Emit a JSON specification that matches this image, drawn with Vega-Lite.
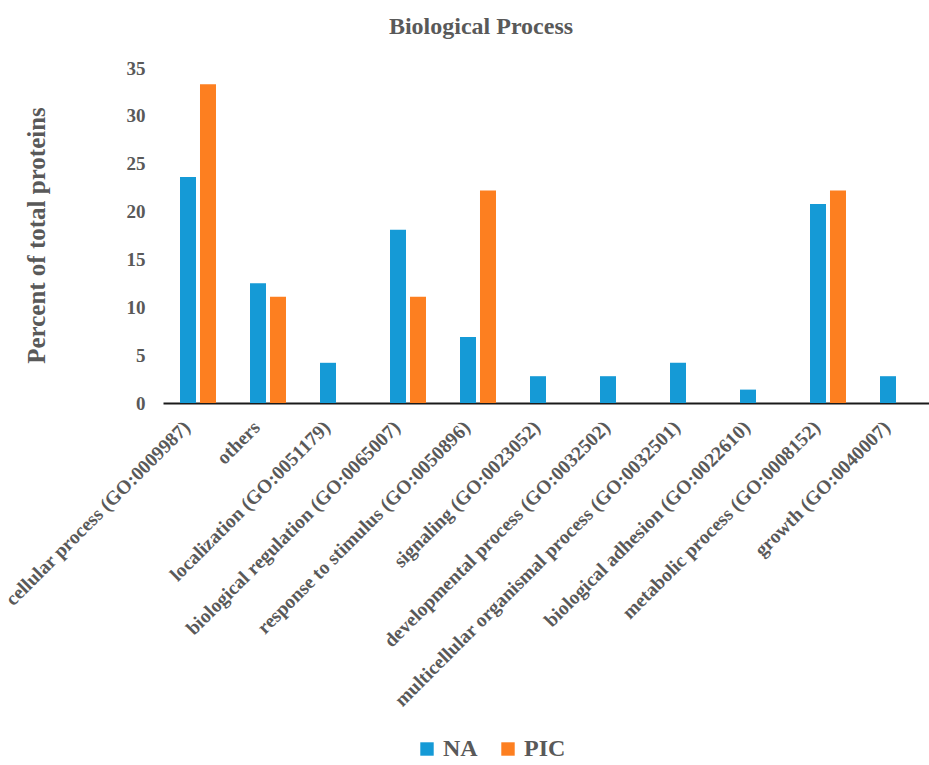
{
  "$schema": "https://vega.github.io/schema/vega-lite/v6.json",
  "autosize": "none",
  "width": 770,
  "height": 335,
  "padding": {"left": 163, "top": 68, "right": 0, "bottom": 362},
  "background": "white",
  "config": {
    "view": {"stroke": null},
    "font": "Liberation Serif"
  },
  "title": {
    "text": "Biological Process",
    "font": "Liberation Serif",
    "fontSize": 24,
    "fontWeight": "bold",
    "color": "#595959",
    "anchor": "middle",
    "dx": -67,
    "offset": 20
  },
  "data": {
    "values": [
      {"category": "cellular process (GO:0009987)", "group": "NA", "value": 23.6},
      {"category": "cellular process (GO:0009987)", "group": "PIC", "value": 33.3},
      {"category": "others", "group": "NA", "value": 12.5},
      {"category": "others", "group": "PIC", "value": 11.1},
      {"category": "localization (GO:0051179)", "group": "NA", "value": 4.2},
      {"category": "biological regulation (GO:0065007)", "group": "NA", "value": 18.1},
      {"category": "biological regulation (GO:0065007)", "group": "PIC", "value": 11.1},
      {"category": "response to stimulus (GO:0050896)", "group": "NA", "value": 6.9},
      {"category": "response to stimulus (GO:0050896)", "group": "PIC", "value": 22.2},
      {"category": "signaling (GO:0023052)", "group": "NA", "value": 2.8},
      {"category": "developmental process (GO:0032502)", "group": "NA", "value": 2.8},
      {"category": "multicellular organismal process (GO:0032501)", "group": "NA", "value": 4.2},
      {"category": "biological adhesion (GO:0022610)", "group": "NA", "value": 1.4},
      {"category": "metabolic process (GO:0008152)", "group": "NA", "value": 20.8},
      {"category": "metabolic process (GO:0008152)", "group": "PIC", "value": 22.2},
      {"category": "growth (GO:0040007)", "group": "NA", "value": 2.8}
    ]
  },
  "mark": {"type": "bar"},
  "encoding": {
    "x": {
      "field": "category",
      "type": "nominal",
      "scale": {
        "domain": [
          "cellular process (GO:0009987)",
          "others",
          "localization (GO:0051179)",
          "biological regulation (GO:0065007)",
          "response to stimulus (GO:0050896)",
          "signaling (GO:0023052)",
          "developmental process (GO:0032502)",
          "multicellular organismal process (GO:0032501)",
          "biological adhesion (GO:0022610)",
          "metabolic process (GO:0008152)",
          "growth (GO:0040007)"
        ],
        "paddingInner": 0.486,
        "paddingOuter": 0.243
      },
      "axis": {
        "title": null,
        "labelAngle": -45,
        "labelAlign": "right",
        "labelBaseline": "middle",
        "labelFont": "Liberation Serif",
        "labelFontWeight": "bold",
        "labelFontSize": 19.5,
        "labelColor": "#595959",
        "labelPadding": 21,
        "labelOffset": -11,
        "labelLimit": 500,
        "ticks": false,
        "domainColor": "#1a1a1a",
        "domainWidth": 2
      }
    },
    "xOffset": {
      "field": "group",
      "type": "nominal",
      "scale": {"domain": ["NA", "PIC"], "paddingInner": 0.2, "paddingOuter": 0}
    },
    "y": {
      "field": "value",
      "type": "quantitative",
      "scale": {"domain": [0, 35], "nice": false},
      "axis": {
        "title": "Percent of total proteins",
        "titleFont": "Liberation Serif",
        "titleFontWeight": "bold",
        "titleFontSize": 25,
        "titleColor": "#595959",
        "titleX": -114,
        "titleY": 167,
        "titleAngle": -90,
        "titleAlign": "center",
        "titleBaseline": "bottom",
        "values": [0, 5, 10, 15, 20, 25, 30, 35],
        "labelFont": "Liberation Serif",
        "labelFontWeight": "bold",
        "labelFontSize": 19,
        "labelColor": "#595959",
        "labelPadding": 18,
        "domain": false,
        "ticks": false,
        "grid": false
      }
    },
    "color": {
      "field": "group",
      "type": "nominal",
      "scale": {"domain": ["NA", "PIC"], "range": ["#159ad6", "#fd7f20"]},
      "legend": {
        "title": null,
        "orient": "none",
        "direction": "horizontal",
        "legendX": 252,
        "legendY": 669,
        "symbolType": "square",
        "symbolSize": 180,
        "symbolStrokeWidth": 0,
        "labelFont": "Liberation Serif",
        "labelFontWeight": "bold",
        "labelFontSize": 24,
        "labelColor": "#595959",
        "labelOffset": 4,
        "columnPadding": 18
      }
    }
  }
}
